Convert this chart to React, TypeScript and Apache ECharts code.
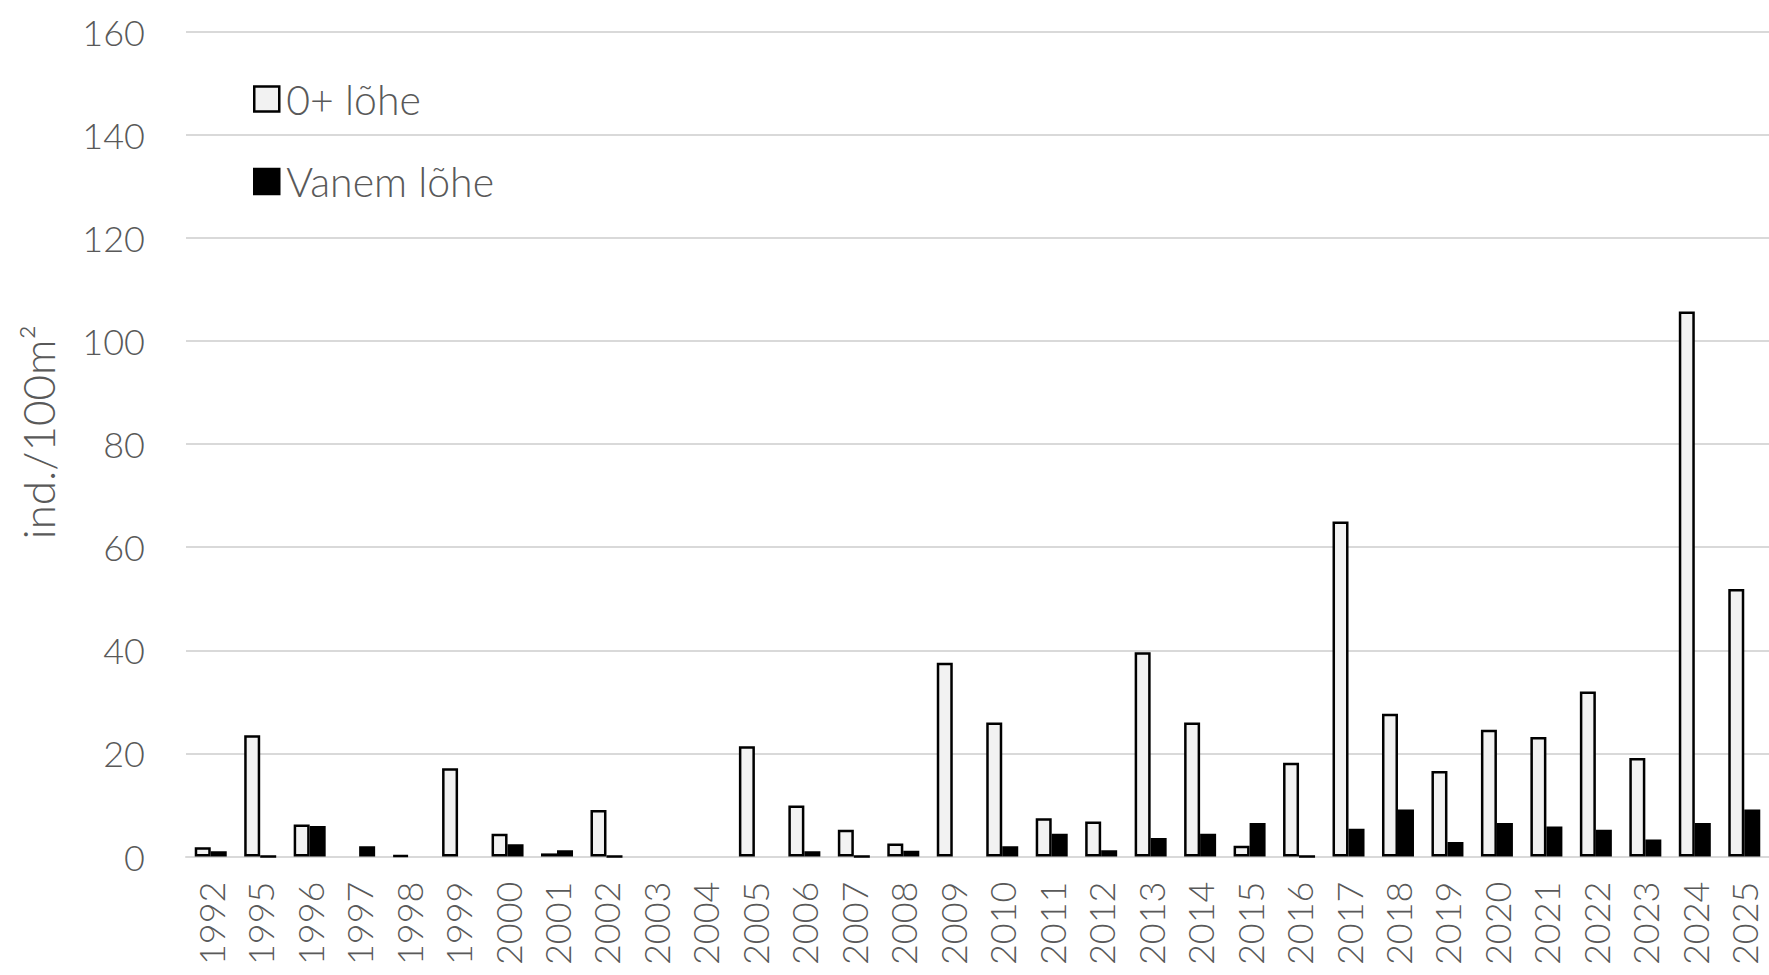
import React, { useEffect, useRef } from "react";
import * as echarts from "echarts";

const years = [
  "1992", "1995", "1996", "1997", "1998", "1999", "2000", "2001", "2002", "2003", "2004",
  "2005", "2006", "2007", "2008", "2009", "2010", "2011", "2012", "2013", "2014", "2015",
  "2016", "2017", "2018", "2019", "2020", "2021", "2022", "2023", "2024", "2025",
];

const youngSalmon = [
  1.8, 23.5, 6.2, null, 0.2, 17.1, 4.4, 0.6, 9.0, null, null,
  21.4, 9.9, 5.2, 2.5, 37.6, 26.0, 7.4, 6.8, 39.6, 26.0, 2.1,
  18.2, 65.0, 27.7, 16.6, 24.6, 23.2, 32.0, 19.1, 105.7, 51.9,
];

const olderSalmon = [
  1.0, 0, 5.9, 2.0, null, null, 2.4, 1.2, 0, null, null,
  null, 1.0, 0, 1.1, null, 2.0, 4.4, 1.2, 3.6, 4.4, 6.5,
  0, 5.4, 9.1, 2.8, 6.5, 5.8, 5.2, 3.3, 6.5, 9.1,
];

const seriesNames = ["0+ lõhe", "Vanem lõhe"];
const yAxisTitle = "ind./100m²";
const yMin = 0;
const yMax = 160;
const yStep = 20;

const FONT = "Lato, 'Open Sans', sans-serif";
const TEXT_COLOR = "#595959";
const GRID_COLOR = "#d9d9d9";

export default function App() {
  const ref = useRef<HTMLDivElement>(null);

  useEffect(() => {
    if (!ref.current) return;
    const chart = echarts.init(ref.current, undefined, { renderer: "svg" });
    chart.setOption({
      animation: false,
      backgroundColor: "#ffffff",
      grid: { left: 186, right: -5, top: 31.6, bottom: 118.5, containLabel: false },
      legend: {
        orient: "vertical",
        left: 253,
        top: 77,
        padding: 0,
        itemWidth: 25,
        itemHeight: 25,
        itemGap: 38.5,
        icon: "rect",
        textStyle: {
          fontFamily: FONT,
          fontWeight: 300,
          fontSize: 41,
          color: TEXT_COLOR,
          lineHeight: 44,
          padding: [0, 0, 0, 2],
        },
        data: [
          { name: seriesNames[0], itemStyle: { color: "#f2f2f2", borderColor: "#000", borderWidth: 2.5 } },
          { name: seriesNames[1], itemStyle: { color: "#000", borderColor: "#000", borderWidth: 2.5 } },
        ],
      },
      xAxis: {
        type: "category",
        data: years,
        axisLine: { show: true, lineStyle: { color: GRID_COLOR, width: 2 } },
        axisTick: { show: false },
        axisLabel: {
          rotate: 90,
          interval: 0,
          margin: 25,
          fontFamily: FONT,
          fontWeight: 300,
          fontSize: 36,
          color: TEXT_COLOR,
        },
      },
      yAxis: {
        type: "value",
        min: yMin,
        max: yMax,
        interval: yStep,
        axisLine: { show: false },
        axisTick: { show: false },
        splitLine: { show: true, lineStyle: { color: GRID_COLOR, width: 2 } },
        axisLabel: {
          margin: 41,
          fontFamily: FONT,
          fontWeight: 300,
          fontSize: 36,
          color: TEXT_COLOR,
        },
      },
      graphic: [
        {
          type: "text",
          x: 38,
          y: 432,
          rotation: Math.PI / 2,
          style: {
            text: yAxisTitle,
            font: `300 44px ${FONT}`,
            fill: TEXT_COLOR,
            textAlign: "center",
            textVerticalAlign: "middle",
          },
        },
      ],
      series: [
        {
          name: seriesNames[0],
          type: "bar",
          data: youngSalmon,
          barWidth: 16,
          barGap: "0%",
          itemStyle: { color: "#f2f2f2", borderColor: "#000000", borderWidth: 2.5 },
        },
        {
          name: seriesNames[1],
          type: "bar",
          data: olderSalmon,
          barWidth: 16,
          barGap: "0%",
          itemStyle: { color: "#000000", borderColor: "#000000", borderWidth: 2.5 },
        },
      ],
    });
    return () => chart.dispose();
  }, []);

  return (
    <div
      ref={ref}
      style={{ position: "fixed", left: 0, top: 0, width: 1769, height: 975, background: "#fff" }}
    />
  );
}
